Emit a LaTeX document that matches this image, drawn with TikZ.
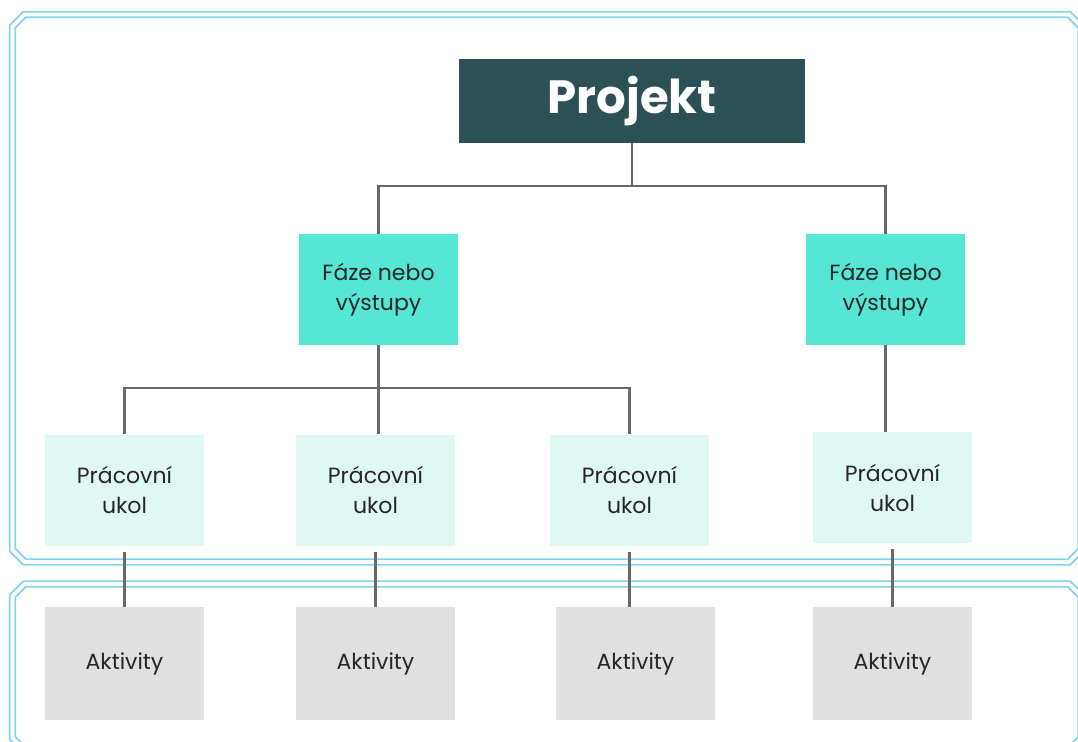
\documentclass[tikz,border=0pt]{standalone}
\usepackage{fontspec}
\setmainfont{Poppins}
\definecolor{topcol}{HTML}{2B5056}
\definecolor{phasecol}{HTML}{55E6D4}
\definecolor{taskcol}{HTML}{DFF8F4}
\definecolor{actcol}{HTML}{E0E0E0}
\definecolor{linkcol}{HTML}{686868}
\definecolor{framecol}{HTML}{84D4EB}
\definecolor{textcol}{HTML}{262626}

\begin{document}
\begin{tikzpicture}[
    x=0.75pt, y=-0.75pt,
    box/.style={rectangle, inner sep=0pt, align=center, text=textcol,
      font=\fontsize{16.5}{22.5}\selectfont},
    top/.style={box, fill=topcol, text=white, minimum width=259.5pt,
      minimum height=63pt, font=\fontsize{35}{40}\selectfont\bfseries},
    phase/.style={box, fill=phasecol, minimum width=119.25pt, minimum height=83.25pt},
    task/.style={box, fill=taskcol, minimum width=119.25pt, minimum height=83.25pt},
    act/.style={box, fill=actcol, minimum width=119.25pt, minimum height=84.75pt},
    link/.style={draw=linkcol, line width=1.8pt},
    frame/.style={draw=framecol, line width=1.4pt, double=white, double distance=2.8pt}
  ]
  \useasboundingbox (0,0) rectangle (1078,742);
  \clip (0,0) rectangle (1078,742);

  % Frames
  \draw[frame] (12.5,26.5) -- (24.5,14.5) -- (1069,14.5) -- (1081,26.5)
    -- (1081,550) -- (1069,562) -- (24.5,562) -- (12.5,550) -- cycle;
  \draw[frame] (12.5,596) -- (24.5,584) -- (1069,584) -- (1081,596)
    -- (1081,738) -- (1069,750) -- (24.5,750) -- (12.5,738) -- cycle;

  % Project
  \node[top] (proj) at (632,101) {Projekt};

  % Phases
  \node[phase] (f1) at (378.5,289.5) {Fáze nebo\\výstupy};
  \node[phase] (f2) at (885.5,289.5) {Fáze nebo\\výstupy};

  % Work tasks
  \node[task] (p1) at (124.5,490) {Prácovní\\ukol};
  \node[task] (p2) at (375.5,490) {Prácovní\\ukol};
  \node[task] (p3) at (629.5,490) {Prácovní\\ukol};
  \node[task] (p4) at (892.5,487.5) {Prácovní\\ukol};

  % Activities
  \node[act] (a1) at (124.5,663.5) {Aktivity};
  \node[act] (a2) at (375.5,663.5) {Aktivity};
  \node[act] (a3) at (635.5,663.5) {Aktivity};
  \node[act] (a4) at (892.5,663.5) {Aktivity};

  % Links
  \draw[link] (proj.south) -- ++(0,43) -| (f1.north);
  \draw[link] (proj.south) -- ++(0,43) -| (f2.north);
  \draw[link] (f1.south) -- ++(0,43) -| (p1.north);
  \draw[link] (f1.south) -- ++(0,43) -| (p3.north);
  \draw[link] (f1.south) -- (f1.south |- p2.north);
  \draw[link] (f2.south) -- (f2.south |- p4.north);
  \draw[link, shorten <=4.5pt] (p1.south) -- (p1.south |- a1.north);
  \draw[link, shorten <=4.5pt] (p2.south) -- (p2.south |- a2.north);
  \draw[link, shorten <=4.5pt] (p3.south) -- (p3.south |- a3.north);
  \draw[link, shorten <=4.5pt] (p4.south) -- (p4.south |- a4.north);
\end{tikzpicture}
\end{document}
